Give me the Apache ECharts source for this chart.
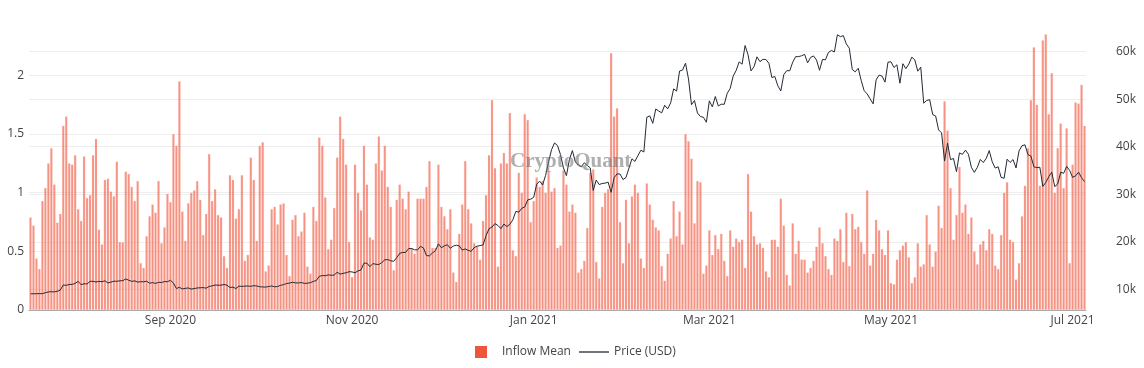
<!DOCTYPE html>
<html><head><meta charset="utf-8">
<script src="https://cdn.jsdelivr.net/npm/echarts@6/dist/echarts.min.js"></script>
<style>html,body{margin:0;padding:0;background:#fff}#c{width:1144px;height:368px}</style>
</head><body><div id="c"></div>
<script>
// first date of the daily series
const startDate = '2020-07-16';

// Inflow Mean (left axis), one value per day
const inflowMean = [
0.79,0.72,0.44,0.35,0.93,1.04,1.25,1.38,1.07,0.745,
0.82,1.57,1.65,1.25,1.24,1.32,0.86,0.76,1.31,0.955,
0.98,1.32,1.46,0.685,0.56,1.11,1.12,1.01,0.97,1.265,
0.58,0.577,1.18,1.16,1.05,
0.93,1.10,0.40,0.36,0.63,0.80,0.90,0.83,1.10,0.57,
0.705,0.99,0.92,1.50,1.40,1.95,0.84,0.59,0.91,1.00,
1.02,1.10,0.94,0.64,0.82,1.33,0.93,1.03,0.81,0.79,
0.46,0.36,1.15,1.11,0.78,
0.86,1.15,0.42,0.47,1.30,1.11,0.59,1.40,1.43,0.33,
0.38,0.86,0.88,0.73,0.90,0.91,0.47,0.29,0.77,0.81,
0.63,0.67,0.83,0.37,0.31,0.88,0.76,1.47,1.40,0.96,
0.52,0.60,0.87,1.30,1.65,
1.46,1.24,0.58,0.28,1.24,1.00,0.85,1.40,1.07,0.62,
0.60,1.25,1.48,1.19,1.40,1.05,0.88,0.34,0.94,1.07,
0.95,0.86,1.01,0.53,0.48,0.95,0.95,0.95,1.05,1.27,
0.53,0.53,1.24,0.88,0.80,
0.69,0.86,0.32,0.24,0.65,0.90,1.27,0.86,0.74,0.57,
0.54,0.43,0.76,0.98,1.32,1.79,1.21,0.37,1.25,1.34,
1.25,1.68,0.51,0.46,1.17,1.00,1.67,1.62,0.75,0.93,
1.13,1.05,1.10,1.00,1.18,
1.01,1.04,0.53,0.55,1.19,1.07,0.84,0.90,0.83,0.32,
0.35,0.42,0.70,1.17,1.20,0.41,0.27,0.88,1.00,1.03,
2.19,1.65,1.72,0.75,0.40,0.94,0.57,0.97,1.07,1.00,
0.44,0.36,1.08,0.90,0.77,
0.705,0.68,0.375,0.25,0.48,0.61,0.93,0.63,0.84,0.56,
1.50,1.44,1.29,0.74,1.10,1.09,0.31,0.38,0.68,0.47,
0.64,0.52,0.65,0.42,0.29,0.68,0.54,0.61,0.58,0.60,
0.36,1.16,0.84,0.63,0.56,
0.57,0.53,0.33,0.28,0.60,0.60,0.54,0.95,0.72,0.30,
0.21,0.74,0.48,0.59,0.43,0.43,0.32,0.36,0.42,0.54,
0.705,0.57,0.46,0.35,0.30,0.61,0.59,0.69,0.41,0.83,
0.375,0.82,0.69,0.71,0.58,
0.48,1.02,0.38,0.48,0.77,0.68,0.52,0.47,0.68,0.23,
0.22,0.43,0.51,0.55,0.58,0.45,0.23,0.28,0.57,0.37,
0.39,0.81,0.56,0.37,0.50,0.89,0.70,1.78,1.53,1.04,
0.60,0.81,1.22,0.83,0.90,
0.65,0.79,0.50,0.39,0.56,0.59,0.51,0.69,0.65,0.38,
0.35,0.64,1.00,1.09,0.60,0.58,0.26,0.40,0.80,1.06,
1.38,1.79,2.24,1.75,1.06,2.30,2.35,
1.67,2.02,1.00,1.38,1.59,1.04,1.55,0.40,1.24,1.77,
1.76,1.92,1.57
];

// Price (USD) (right axis), one value per day
const priceUSD = [
9132,9151,9159,9185,9165,9374,9525,9581,9536,9677,9905,10990,10912,11100,11111,11323,
11759,11053,11246,11205,11747,11779,11601,11754,11675,11878,11410,11585,11784,11768,11865,11892,12254,11991,11742,11858,11592,11681,11664,11774,11366,11488,11323,11542,11506,11711,11680,
11970,11414,10245,10511,10169,10280,10370,10131,10242,10364,10400,10442,10323,10680,10796,10974,10949,10944,11094,10938,10462,10538,10246,10760,10692,10750,10775,10709,10844,10784,
10619,10575,10549,10669,10793,10604,10668,10915,11064,11296,11384,11555,11425,11429,11495,11322,11358,11483,11742,11917,12823,12965,12931,13108,13031,13075,13655,13271,13437,13546,13781,
13737,13550,13950,14133,15579,15565,14833,15479,15332,15290,15701,16276,16317,16068,15955,16716,17645,17804,17817,18621,18642,18370,18364,19107,18732,17150,17108,17718,18177,19625,
18802,19201,19446,18699,19154,19345,19191,18321,18553,18264,18058,18803,19142,19246,19417,21310,22805,23137,23869,23477,22803,23783,23241,23735,24664,26437,26272,27084,27362,28841,29002,
29374,32127,32782,31971,33992,36824,39371,40797,40254,38356,35566,33922,37316,39187,36825,36178,35792,36630,36070,35548,30825,33006,32068,32289,32366,32569,30432,33466,34316,34269,33114,
33538,35510,37472,36926,38144,39266,38903,46196,46481,44918,47910,47504,47106,48717,47945,49199,52149,51680,55888,56099,57539,54207,48824,49705,47093,46339,46188,45137,
49631,48378,50538,48561,48927,48912,51206,52246,54824,56008,57805,57332,61243,59302,55907,56804,58870,57858,58346,58313,57523,54529,54738,52775,51704,55137,55974,55948,57750,58918,58918,
59095,59384,57603,58758,59057,58192,56048,58323,58245,59793,60204,59893,63503,63109,63314,61572,60683,56216,55724,56473,53906,51762,51093,50050,49004,54021,55033,54824,53555,57750,
57828,56631,57200,53333,57424,56397,57356,58804,58232,55859,56704,49150,49716,49880,46760,46456,43537,42909,37002,40782,37304,37536,34770,38705,38402,39294,38436,35697,34616,35678,37332,
36684,37575,39188,36851,35520,35797,33552,33380,37389,36703,37314,35551,39098,40218,40407,38347,38054,35787,35615,35698,31676,32505,33723,34662,31637,32186,34649,34434,35867,35040,
33573,33897,34668,33500,32700
];

const leftTicks = [0, 0.5, 1, 1.5, 2];
const rightTicks = [10000, 20000, 30000, 40000, 50000, 60000];
const monthTicks = ['2020-09-01','2020-11-01','2021-01-01','2021-03-01','2021-05-01','2021-07-01'];
const monthNames = ['Jan','Feb','Mar','Apr','May','Jun','Jul','Aug','Sep','Oct','Nov','Dec'];

const n = Math.min(inflowMean.length, priceUSD.length);
const sd = new Date(startDate + 'T00:00:00Z');
const dates = [];
for (let i = 0; i < n; i++) {
  const d = new Date(sd.getTime() + i * 86400000);
  dates.push(d.toISOString().slice(0, 10));
}

const font = '"Open Sans", "Noto Sans", sans-serif';
const chart = echarts.init(document.getElementById('c'), null, {renderer: 'canvas'});
chart.setOption({
  animation: false,
  backgroundColor: '#fff',
  textStyle: {fontFamily: font},
  grid: {left: 29, right: 58, top: 20, bottom: 58, containLabel: false, outerBoundsMode: 'none'},
  graphic: [{
    type: 'text', left: 510, top: 151, z: 100, silent: true,
    style: {text: 'CryptoQuant', font: 'bold 21px "Liberation Serif", "DejaVu Serif", serif', fill: 'rgba(110,110,110,0.55)'}
  }],
  legend: [{
    data: [{name: 'Inflow Mean', icon: 'rect', itemStyle: {color: '#EF553B', opacity: 1, borderWidth: 0}}],
    left: 475, top: 346, itemWidth: 12, itemHeight: 12, padding: 0,
    textStyle: {color: '#444', fontSize: 12, fontFamily: font, padding: [0, 0, 0, 10]}
  }, {
    data: [{name: 'Price (USD)', icon: 'rect', itemStyle: {color: '#222a35', borderWidth: 0}}],
    left: 579, top: 346, itemWidth: 30, itemHeight: 1.3, padding: 0,
    textStyle: {color: '#444', fontSize: 12, fontFamily: font}
  }],
  xAxis: {
    type: 'category', data: dates, boundaryGap: true,
    axisTick: {show: false},
    axisLine: {show: true, lineStyle: {color: '#aaa', width: 1}},
    splitLine: {show: false},
    axisLabel: {
      interval: (i, v) => monthTicks.indexOf(v) >= 0,
      formatter: v => monthNames[parseInt(v.slice(5, 7), 10) - 1] + ' ' + v.slice(0, 4),
      color: '#444', fontSize: 12, fontFamily: font, margin: 5
    }
  },
  yAxis: [{
    type: 'value', min: 0, max: 2.472, position: 'left',
    axisLine: {show: false}, axisTick: {show: false, customValues: leftTicks},
    axisLabel: {customValues: leftTicks, color: '#444', fontSize: 12, fontFamily: font, margin: 5},
    splitLine: {show: true, lineStyle: {color: '#eeeeee', width: 1}}
  }, {
    type: 'value', min: 5740, max: 66600, position: 'right',
    axisLine: {show: false}, axisTick: {show: false, customValues: rightTicks},
    axisLabel: {customValues: rightTicks, formatter: v => (v / 1000) + 'k', color: '#444', fontSize: 12, fontFamily: font, margin: 30},
    splitLine: {show: true, lineStyle: {color: '#eeeeee', width: 1}}
  }],
  series: [{
    name: 'Inflow Mean', type: 'bar', yAxisIndex: 0,
    data: inflowMean.slice(0, n), barCategoryGap: '18%',
    itemStyle: {color: 'rgba(239,85,59,0.64)', borderColor: 'rgba(255,200,190,0.6)', borderWidth: 0.4}
  }, {
    name: 'Price (USD)', type: 'line', yAxisIndex: 1,
    data: priceUSD.slice(0, n), symbol: 'none', smooth: false,
    lineStyle: {color: '#222a35', width: 1}, itemStyle: {color: '#222a35'}, z: 5
  }]
});
</script></body></html>
